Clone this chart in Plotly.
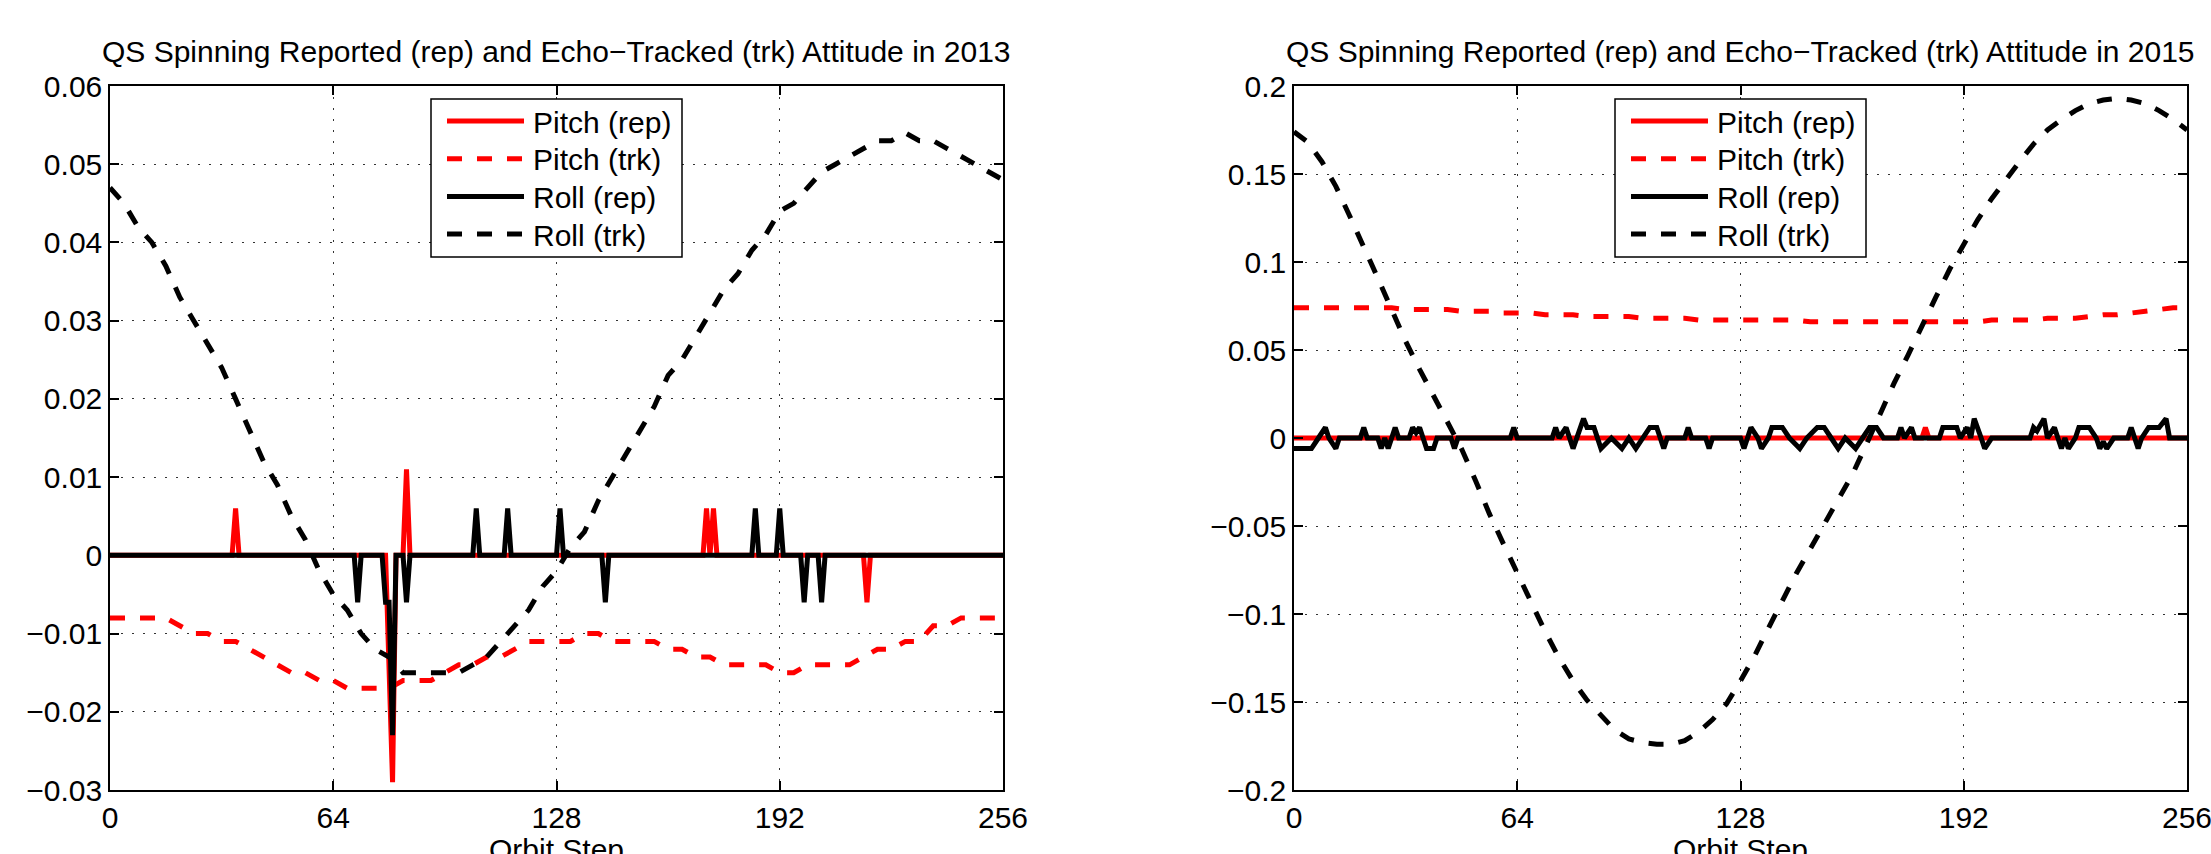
import plotly.graph_objects as go

# ---------------- data ----------------
TITLES = ["QS Spinning Reported (rep) and Echo\u2212Tracked (trk) Attitude in 2013",
          "QS Spinning Reported (rep) and Echo\u2212Tracked (trk) Attitude in 2015"]
SERIES_NAMES = ["Pitch (rep)", "Pitch (trk)", "Roll (rep)", "Roll (trk)"]
X_LABEL = "Orbit Step"

x_ticks = [0, 64, 128, 192, 256]
x_ticktext = ["0", "64", "128", "192", "256"]
y_ticks_2013 = [0.06, 0.05, 0.04, 0.03, 0.02, 0.01, 0, -0.01, -0.02, -0.03]
y_ticktext_2013 = ["0.06", "0.05", "0.04", "0.03", "0.02", "0.01", "0",
                   "\u22120.01", "\u22120.02", "\u22120.03"]
y_ticks_2015 = [0.2, 0.15, 0.1, 0.05, 0, -0.05, -0.1, -0.15, -0.2]
y_ticktext_2015 = ["0.2", "0.15", "0.1", "0.05", "0", "\u22120.05", "\u22120.1",
                   "\u22120.15", "\u22120.2"]

# sampling steps for the echo-tracked curves
trk_steps = [0, 4, 8, 12, 16, 20, 24, 28, 32, 36, 40, 44, 48, 52, 56, 60, 64,
             68, 72, 76, 80, 84, 88, 92, 96, 100, 104, 108, 112, 116, 120, 124, 128,
             132, 136, 140, 144, 148, 152, 156, 160, 164, 168, 172, 176, 180, 184, 188, 192,
             196, 200, 204, 208, 212, 216, 220, 224, 228, 232, 236, 240, 244, 248, 252, 256]

# 2013
pitch_rep_2013_x = [0, 35, 36, 37, 79, 81, 82, 84, 85, 86, 170, 171, 172, 173, 174,
                    216, 217, 218, 256]
pitch_rep_2013_y = [0, 0, 0.006, 0, 0, -0.029, 0, 0, 0.011, 0, 0, 0.006, 0, 0.006, 0,
                    0, -0.006, 0, 0]
pitch_trk_2013 = [-0.008, -0.008, -0.008, -0.008, -0.008, -0.009, -0.010, -0.010,
                  -0.011, -0.011, -0.012, -0.013, -0.014, -0.015, -0.015, -0.016, -0.016,
                  -0.017, -0.017, -0.017, -0.017, -0.016, -0.016, -0.016, -0.015, -0.014,
                  -0.014, -0.013, -0.013, -0.012, -0.011, -0.011, -0.011, -0.011, -0.010,
                  -0.010, -0.011, -0.011, -0.011, -0.011, -0.012, -0.012, -0.013, -0.013,
                  -0.014, -0.014, -0.014, -0.014, -0.015, -0.015, -0.014, -0.014, -0.014,
                  -0.014, -0.013, -0.012, -0.012, -0.011, -0.011, -0.009, -0.009, -0.008,
                  -0.008, -0.008, -0.008]
roll_rep_2013_x = [0, 70, 71, 72, 78, 79, 80, 81, 82, 84, 85, 86, 104, 105, 106,
                   113, 114, 115, 128, 129, 130, 141, 142, 143, 184, 185, 186,
                   191, 192, 193, 198, 199, 200, 203, 204, 205, 256]
roll_rep_2013_y = [0, 0, -0.006, 0, 0, -0.006, -0.006, -0.023, 0, 0, -0.006, 0, 0, 0.006, 0,
                   0, 0.006, 0, 0, 0.006, 0, 0, -0.006, 0, 0, 0.006, 0,
                   0, 0.006, 0, 0, -0.006, 0, 0, -0.006, 0, 0]
roll_trk_2013 = [0.047, 0.045, 0.042, 0.040, 0.037, 0.033, 0.030, 0.027, 0.024, 0.020,
                 0.016, 0.012, 0.009, 0.005, 0.002, -0.002, -0.005, -0.007, -0.010, -0.012,
                 -0.013, -0.015, -0.015, -0.015, -0.015, -0.015, -0.014, -0.013, -0.011,
                 -0.009, -0.007, -0.004, -0.002, 0.001, 0.003, 0.007, 0.010, 0.013, 0.016,
                 0.019, 0.023, 0.025, 0.028, 0.031, 0.034, 0.036, 0.039, 0.041, 0.044,
                 0.045, 0.047, 0.049, 0.050, 0.051, 0.052, 0.053, 0.053, 0.054, 0.053,
                 0.053, 0.052, 0.051, 0.050, 0.049, 0.048]

# 2015
pitch_rep_2015_x = [0, 180, 181, 182, 256]
pitch_rep_2015_y = [0, 0, 0.006, 0, 0]
pitch_trk_2015 = [0.074, 0.074, 0.074, 0.074, 0.074, 0.074, 0.074, 0.074, 0.073, 0.073,
                  0.073, 0.073, 0.072, 0.072, 0.072, 0.071, 0.071, 0.071, 0.070, 0.070,
                  0.070, 0.069, 0.069, 0.069, 0.069, 0.068, 0.068, 0.068, 0.068, 0.067,
                  0.067, 0.067, 0.067, 0.067, 0.067, 0.067, 0.067, 0.066, 0.066, 0.066,
                  0.066, 0.066, 0.066, 0.066, 0.066, 0.066, 0.066, 0.066, 0.066, 0.066,
                  0.067, 0.067, 0.067, 0.067, 0.068, 0.068, 0.068, 0.069, 0.070, 0.070,
                  0.071, 0.072, 0.073, 0.074, 0.074]
roll_rep_2015_x = [0, 5, 7, 9, 10, 12, 13, 19, 20, 21, 24, 25, 26, 27, 29, 30, 33, 34, 35,
                   36, 37, 38, 40, 41, 45, 46, 47, 62, 63, 64, 74, 75, 76, 78, 80, 83, 84,
                   86, 88, 91, 94, 96, 98, 100, 102, 104, 106, 107, 112, 113, 114, 118, 119,
                   120, 128, 129, 131, 133, 134, 136, 137, 140, 142, 145, 147, 150, 152, 154,
                   156, 158, 161, 163, 165, 167, 169, 173, 174, 175, 177, 178, 185, 186, 190,
                   191, 193, 194, 195, 197, 198, 200, 211, 212, 213, 215, 216, 218, 220, 221,
                   222, 224, 225, 228, 230, 231, 232, 233, 235, 239, 240, 241, 242, 243, 245,
                   248, 250, 251, 256]
roll_rep_2015_y = [-0.006, -0.006, 0, 0.006, 0, -0.006, 0, 0, 0.006, 0, 0, -0.006, 0, -0.006,
                   0.006, 0, 0, 0.006, 0.003, 0.006, 0, -0.006, -0.006, 0, 0, -0.006, 0, 0,
                   0.006, 0, 0, 0.006, 0, 0.006, -0.006, 0.011, 0.006, 0.006, -0.006, 0,
                   -0.006, 0, -0.006, 0, 0.006, 0.006, -0.006, 0, 0, 0.006, 0, 0, -0.006, 0,
                   0, -0.006, 0.006, 0, -0.006, 0, 0.006, 0.006, 0, -0.006, 0, 0.006, 0.006,
                   0, -0.006, 0, -0.006, 0, 0.006, 0.006, 0, 0, 0.006, 0, 0.006, 0, 0, 0.006,
                   0.006, 0, 0.006, 0, 0.011, 0, -0.006, 0, 0, 0.006, 0.004, 0.011, 0, 0.006,
                   -0.006, 0, -0.006, 0, 0.006, 0.006, 0, -0.006, -0.002, -0.006, 0, 0, 0.006,
                   0, -0.006, 0, 0.006, 0.006, 0.011, 0, 0]
roll_trk_2015 = [0.174, 0.168, 0.157, 0.143, 0.126, 0.109, 0.091, 0.073, 0.055, 0.039,
                 0.024, 0.009, -0.006, -0.024, -0.043, -0.060, -0.077, -0.094, -0.110,
                 -0.125, -0.138, -0.149, -0.158, -0.166, -0.171, -0.173, -0.174, -0.174,
                 -0.172, -0.167, -0.160, -0.151, -0.138, -0.124, -0.108, -0.092, -0.077,
                 -0.063, -0.049, -0.036, -0.021, -0.004, 0.014, 0.031, 0.047, 0.064, 0.080,
                 0.096, 0.110, 0.124, 0.136, 0.147, 0.157, 0.167, 0.175, 0.181, 0.186,
                 0.190, 0.192, 0.193, 0.192, 0.190, 0.186, 0.181, 0.175]

# ---------------- figure ----------------
W, H = 2211, 854
ML, MR, MT, MB = 110, 24, 86, 64
PW = W - ML - MR
PH = H - MT - MB


def xp(px):
    return (px - ML) / PW


def yp(py):
    return (H - MB - py) / PH


FONT = "Liberation Sans, Arial, Helvetica, sans-serif"
FS = 30
LW = 5
DASH = "15px,15px"
RED, BLACK = "#ff0000", "#000000"
styles = [(RED, "solid"), (RED, DASH), (BLACK, "solid"), (BLACK, DASH)]

fig = go.Figure()

panels = [
    ([(pitch_rep_2013_x, pitch_rep_2013_y), (trk_steps, pitch_trk_2013),
      (roll_rep_2013_x, roll_rep_2013_y), (trk_steps, roll_trk_2013)], "x", "y"),
    ([(pitch_rep_2015_x, pitch_rep_2015_y), (trk_steps, pitch_trk_2015),
      (roll_rep_2015_x, roll_rep_2015_y), (trk_steps, roll_trk_2015)], "x2", "y2"),
]
for series, xa, ya in panels:
    for (xs, ys), name, (col, dash) in zip(series, SERIES_NAMES, styles):
        fig.add_trace(go.Scatter(x=xs, y=ys, mode="lines", name=name, xaxis=xa, yaxis=ya,
                                 showlegend=False,
                                 line=dict(color=col, width=LW, dash=dash)))

axis_common = dict(
    showline=True, linecolor="black", linewidth=1.5, mirror="allticks",
    ticks="inside", ticklen=9, tickwidth=1.5, tickcolor="black",
    showgrid=True, gridcolor="#333333", gridwidth=1.2, griddash="1.5px,9.5px",
    zeroline=False, automargin=False, ticklabeloverflow="allow",
    tickfont=dict(family=FONT, size=FS, color="black"),
)
x_extra = dict(range=[0, 256], tickvals=x_ticks, ticktext=x_ticktext)

fig.update_layout(
    width=W, height=H,
    margin=dict(l=ML, r=MR, t=MT, b=MB),
    paper_bgcolor="white", plot_bgcolor="white",
    font=dict(family=FONT, size=FS, color="black"),
    showlegend=False,
    xaxis=dict(domain=[0, xp(1003)], anchor="y", **x_extra, **axis_common),
    yaxis=dict(domain=[0, 1], range=[-0.03, 0.06], tickvals=y_ticks_2013,
               ticktext=y_ticktext_2013, anchor="x", **axis_common),
    xaxis2=dict(domain=[xp(1294), 1], anchor="y2", **x_extra, **axis_common),
    yaxis2=dict(domain=[0, 1], range=[-0.2, 0.2], tickvals=y_ticks_2015,
                ticktext=y_ticktext_2015, anchor="x2", **axis_common),
)

annotations = []
shapes = []
for title, left in zip(TITLES, [110, 1294]):
    annotations.append(dict(text=title, xref="paper", yref="paper",
                            x=xp(left + 446.5), y=yp(52), xanchor="center", yanchor="middle",
                            showarrow=False, font=dict(family=FONT, size=FS, color="black")))
    # x-axis label
    annotations.append(dict(text=X_LABEL, xref="paper", yref="paper",
                            x=xp(left + 446.5), y=yp(849), xanchor="center", yanchor="middle",
                            showarrow=False, font=dict(family=FONT, size=FS, color="black")))
    # legend box
    bx0 = left + 321
    shapes.append(dict(type="rect", xref="paper", yref="paper",
                       x0=xp(bx0), x1=xp(bx0 + 251), y0=yp(99), y1=yp(257),
                       line=dict(color="black", width=1.5), fillcolor="white", layer="above"))
    for i, (name, (col, dash)) in enumerate(zip(SERIES_NAMES, styles)):
        ry = 121 + i * 37.7
        shapes.append(dict(type="line", xref="paper", yref="paper",
                           x0=xp(bx0 + 16), x1=xp(bx0 + 93), y0=yp(ry), y1=yp(ry),
                           line=dict(color=col, width=LW, dash=dash), layer="above"))
        annotations.append(dict(text=name, xref="paper", yref="paper",
                                x=xp(bx0 + 100), y=yp(ry + 1), xanchor="left",
                                yanchor="middle", showarrow=False,
                                font=dict(family=FONT, size=FS, color="black")))

fig.update_layout(annotations=annotations, shapes=shapes)
fig.write_html("out.html")
